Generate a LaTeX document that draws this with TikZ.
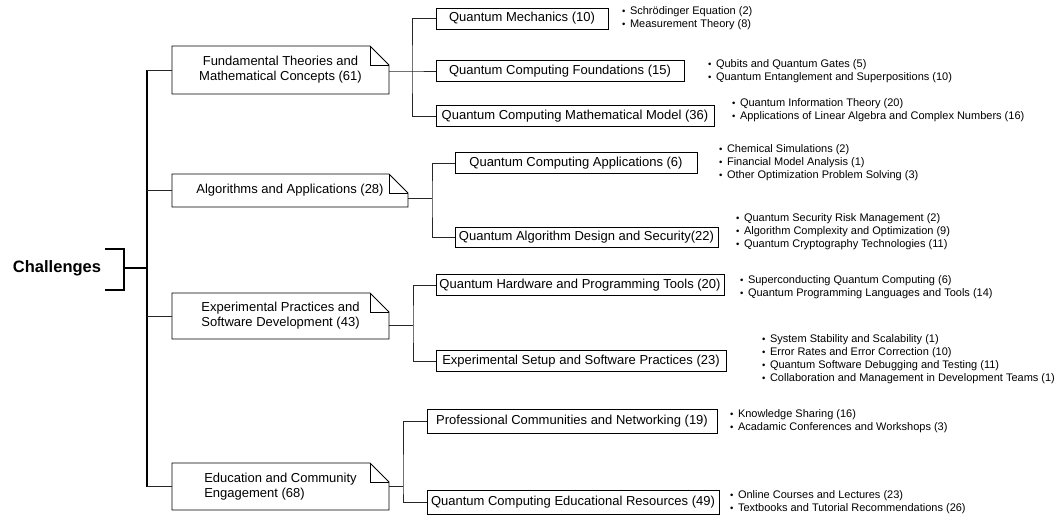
\documentclass[tikz,border=0pt]{standalone}
\usepackage{fontspec}
\setmainfont{Liberation Sans}
\usetikzlibrary{positioning}
\tikzstyle{every link} = []
\tikzstyle{trunk} = [draw, line width=1.8pt, black]
\tikzstyle{link} = [draw, line width=0.9pt, black!85, every link]
\newcommand{\itm}{{\fontsize{9.5}{9.5}\selectfont\textbullet}\hspace{4.5pt}}
\newcommand{\foldnote}[1]{%
  \draw[line width=0.8pt] (#1.north west) -- ([xshift=-19pt]#1.north east) -- ([yshift=-19pt]#1.north east) -- (#1.south east) -- (#1.south west) -- cycle;
  \draw[line width=0.8pt] ([xshift=-19pt]#1.north east) |- ([yshift=-19pt]#1.north east);
}

\begin{document}
\begin{tikzpicture}[x=1pt, y=-1pt]
        \tikzstyle{category} = [minimum width=217pt, inner sep=0pt, outer sep=0pt, align=center, font=\fontsize{13}{15}\selectfont]
        \tikzstyle{topic} = [draw, line width=0.8pt, anchor=west, minimum height=21pt, inner sep=0pt, outer sep=0pt, font=\fontsize{13}{15}\selectfont]
        \tikzstyle{items} = [inner sep=0pt, align=left, font=\fontsize{11}{13}\selectfont]
        \useasboundingbox (0,0) rectangle (1063,519);

        \node[font=\bfseries\fontsize{16.5}{18}\selectfont] (root) at (57,268) {Challenges};
        \coordinate (brup) at (105,249);
        \coordinate (brdown) at (105,290);
        \coordinate (brmid) at (124,268);
        \coordinate (trunktop) at (147,70);
        \coordinate (trunkbot) at (147,486.5);

        % categories
        \node[category, minimum height=48pt] (fund) at (280.5,70) {Fundamental Theories and\\Mathematical Concepts (61)};
        \node[category, minimum width=236pt, minimum height=33pt] (alg) at (290,190.5) {Algorithms and Applications (28)};
        \node[category, minimum height=46pt] (exp) at (280.5,316) {Experimental Practices and\\Software Development (43)};
        \node[category, minimum height=47pt, align=left] (edu) at (280.5,486.5) {Education and Community\\Engagement (68)};
        \foldnote{fund}
        \foldnote{alg}
        \foldnote{exp}
        \foldnote{edu}

        % topics
        \node[topic, minimum width=172pt] (qm) at (436,18.5) {Quantum Mechanics (10)};
        \node[topic, minimum width=248pt] (qcf) at (436,71) {Quantum Computing Foundations (15)};
        \node[topic, minimum width=278pt] (qcmm) at (436,116) {Quantum Computing Mathematical Model (36)};
        \node[topic, minimum width=242pt] (qca) at (455,163) {Quantum Computing Applications (6)};
        \node[topic, minimum width=263pt, minimum height=20pt] (qads) at (455,237) {Quantum Algorithm Design and Security(22)};
        \node[topic, minimum width=288pt] (qhpt) at (436,285) {Quantum Hardware and Programming Tools (20)};
        \node[topic, minimum width=290pt] (essp) at (436,361) {Experimental Setup and Software Practices (23)};
        \node[topic, minimum width=290pt, minimum height=24pt] (pcn) at (427,421) {Professional Communities and Networking (19)};
        \node[topic, minimum width=292pt, minimum height=24pt] (qcer) at (427,502) {Quantum Computing Educational Resources (49)};

        % sub-items
        \node[items, right=14pt of qm] (qmitems) {\itm Schrödinger Equation (2)\\\itm Measurement Theory (8)};
        \node[items, right=24pt of qcf] (qcfitems) {\itm Qubits and Quantum Gates (5)\\\itm Quantum Entanglement and Superpositions (10)};
        \node[items, right=18pt of qcmm, yshift=5.5pt] (qcmmitems) {\itm Quantum Information Theory (20)\\\itm Applications of Linear Algebra and Complex Numbers (16)};
        \node[items, right=22pt of qca] (qcaitems) {\itm Chemical Simulations (2)\\\itm Financial Model Analysis (1)\\\itm Other Optimization Problem Solving (3)};
        \node[items, right=18pt of qads, yshift=5.5pt] (qadsitems) {\itm Quantum Security Risk Management (2)\\\itm Algorithm Complexity and Optimization (9)\\\itm Quantum Cryptography Technologies (11)};
        \node[items, right=16pt of qhpt, yshift=-2.5pt] (qhptitems) {\itm Superconducting Quantum Computing (6)\\\itm Quantum Programming Languages and Tools (14)};
        \node[items, right=36pt of essp, yshift=1.5pt] (esspitems) {\itm System Stability and Scalability (1)\\\itm Error Rates and Error Correction (10)\\\itm Quantum Software Debugging and Testing (11)\\\itm Collaboration and Management in Development Teams (1)};
        \node[items, right=13pt of pcn] (pcnitems) {\itm Knowledge Sharing (16)\\\itm Acadamic Conferences and Workshops (3)};
        \node[items, right=11pt of qcer] (qceritems) {\itm Online Courses and Lectures (23)\\\itm Textbooks and Tutorial Recommendations (26)};

        % trunk
        \draw[trunk] (brup) -| (brmid) |- (brdown);
        \draw[trunk] (brmid) -- (brmid -| trunktop);
        \draw[trunk] (trunktop) -- (trunkbot);
        \draw[link] (fund.west) -- (fund.west -| trunktop);
        \draw[link] (alg.west) -- (alg.west -| trunktop);
        \draw[link] (exp.west) -- (exp.west -| trunktop);
        \draw[link] (edu.west) -- (edu.west -| trunktop);

        % branches
        \coordinate (fj) at (412,71);
        \coordinate (aj) at (432,198);
        \coordinate (ej) at (413,325);
        \coordinate (dj) at (403,486.5);
        \draw[link] (fund.east |- fj) -- (fj) -- (qcf.west);
        \draw[link] (qm.west) -| (fj) |- (qcmm.west);
        \draw[link] (alg.east |- aj) -- (aj);
        \draw[link] (qca.west) -| (aj) |- (qads.west);
        \draw[link] (exp.east |- ej) -- (ej);
        \draw[link] (qhpt.west) -| (ej) |- (essp.west);
        \draw[link] (edu.east) -- (dj);
        \draw[link] (pcn.west) -| (dj) |- (qcer.west);
\end{tikzpicture}
\end{document}
